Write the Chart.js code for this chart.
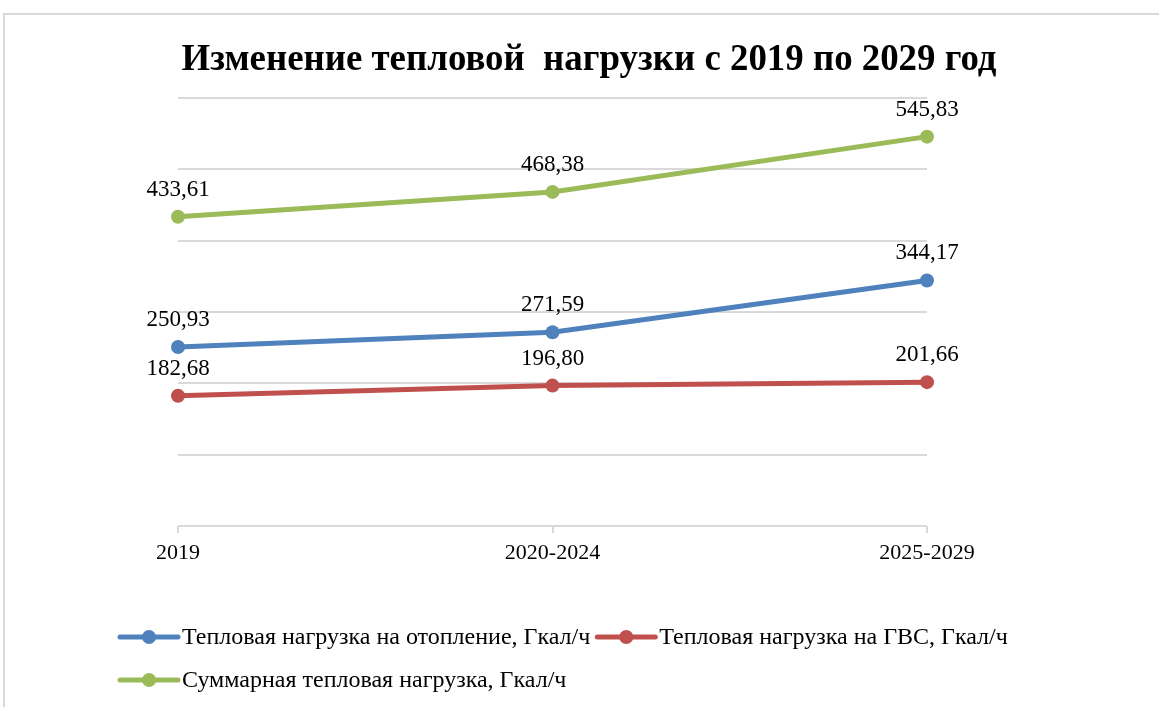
<!DOCTYPE html>
<html>
<head>
<meta charset="utf-8">
<script src="https://cdn.jsdelivr.net/npm/chart.js@4.4.1/dist/chart.umd.min.js"></script>
<style>
  html, body { margin: 0; padding: 0; background: #fff; overflow: hidden; }
  #frame { position: absolute; left: 3px; top: 13px; width: 1300px; height: 900px;
           border-left: 2px solid #d9d9d9; border-top: 2px solid #d9d9d9; }
  #wrap { position: absolute; left: 0; top: 0; width: 1159px; height: 707px; }
</style>
</head>
<body>
<div id="frame"></div>
<div id="wrap"><canvas id="c" width="1159" height="707"></canvas></div>
<script>
// Периоды
const categories = ['2019', '2020-2024', '2025-2029'];
// Тепловая нагрузка, Гкал/ч
const heatingLoad = [250.93, 271.59, 344.17];
const hotWaterLoad = [182.68, 196.80, 201.66];
const totalLoad = [433.61, 468.38, 545.83];
const seriesNames = [
  'Тепловая нагрузка на отопление, Гкал/ч',
  'Тепловая нагрузка на ГВС, Гкал/ч',
  'Суммарная тепловая нагрузка, Гкал/ч'
];
const seriesColors = ['#4f81bd', '#c0504d', '#9bbb59'];
const titleText = 'Изменение тепловой  нагрузки с 2019 по 2029 год';
const yMin = 0, yMax = 600, yStep = 100;

const SERIF = '"Liberation Serif", "Times New Roman", serif';
const fmt = v => v.toFixed(2).replace('.', ',');

// Заголовок, слегка сжатый по ширине
const titlePlugin = {
  id: 'titleDraw',
  afterDraw(chart) {
    const ctx = chart.ctx;
    ctx.save();
    ctx.font = 'bold 38px ' + SERIF;
    ctx.fillStyle = '#000';
    ctx.textAlign = 'center';
    ctx.textBaseline = 'alphabetic';
    const w = ctx.measureText(titleText).width;
    const sx = 815 / w;
    ctx.translate(589, 70);
    ctx.scale(sx, 1);
    ctx.fillText(titleText, 0, 0);
    ctx.restore();
  }
};

// Подписи значений над точками
const valueLabels = {
  id: 'valueLabels',
  afterDatasetsDraw(chart) {
    const ctx = chart.ctx;
    ctx.save();
    ctx.font = '23px ' + SERIF;
    ctx.fillStyle = '#000';
    ctx.textAlign = 'center';
    ctx.textBaseline = 'alphabetic';
    chart.data.datasets.forEach((ds, i) => {
      const meta = chart.getDatasetMeta(i);
      meta.data.forEach((pt, j) => {
        ctx.fillText(fmt(ds.data[j]), pt.x, pt.y - 21);
      });
    });
    ctx.restore();
  }
};

// Легенда: линия с маркером и подпись
const legendDraw = {
  id: 'legendDraw',
  afterDraw(chart) {
    const ctx = chart.ctx;
    ctx.save();
    ctx.font = '24px ' + SERIF;
    ctx.textBaseline = 'middle';
    ctx.textAlign = 'left';
    const startX = 118, rowY = [637, 680], sample = 62, gap = 2, sep = 5, maxX = 1100;
    let x = startX, row = 0;
    chart.data.datasets.forEach((ds) => {
      const tw = ctx.measureText(ds.label).width;
      const itemW = sample + gap + tw;
      if (x !== startX && x + itemW > maxX) { row++; x = startX; }
      const y = rowY[row];
      ctx.strokeStyle = ds.borderColor;
      ctx.lineWidth = 5;
      ctx.lineCap = 'round';
      ctx.beginPath();
      ctx.moveTo(x + 2, y);
      ctx.lineTo(x + sample - 2, y);
      ctx.stroke();
      ctx.fillStyle = ds.borderColor;
      ctx.beginPath();
      ctx.arc(x + sample / 2, y, 7, 0, Math.PI * 2);
      ctx.fill();
      ctx.fillStyle = '#000';
      ctx.fillText(ds.label, x + sample + gap, y + 1);
      x += itemW + sep;
    });
    ctx.restore();
  }
};

const series = [heatingLoad, hotWaterLoad, totalLoad];
const datasets = series.map((data, i) => ({
  label: seriesNames[i],
  data: data,
  borderColor: seriesColors[i],
  backgroundColor: seriesColors[i],
  borderWidth: 5,
  pointRadius: 7,
  pointHoverRadius: 7,
  pointBorderWidth: 0,
  pointBackgroundColor: seriesColors[i],
  tension: 0,
  clip: false
}));

new Chart(document.getElementById('c'), {
  type: 'line',
  data: { labels: categories, datasets: datasets },
  options: {
    responsive: false,
    devicePixelRatio: 1,
    animation: false,
    events: [],
    layout: { padding: { left: 178, right: 232, top: 98, bottom: 141 } },
    plugins: {
      legend: { display: false },
      title: { display: false },
      tooltip: { enabled: false }
    },
    scales: {
      x: {
        offset: false,
        afterFit(scale) { scale.height = 40; },
        grid: { display: true, drawOnChartArea: false, drawTicks: true, tickLength: 7, color: '#d9d9d9', lineWidth: 2 },
        border: { display: false },
        ticks: { color: '#000', font: { family: SERIF, size: 22 }, padding: 7, maxRotation: 0, autoSkip: false }
      },
      y: {
        min: yMin, max: yMax,
        afterFit(scale) { scale.width = 0; },
        ticks: { display: false, stepSize: yStep },
        grid: { color: '#d9d9d9', lineWidth: 2, drawTicks: false },
        border: { display: false }
      }
    }
  },
  plugins: [valueLabels, titlePlugin, legendDraw]
});
</script>
</body>
</html>
